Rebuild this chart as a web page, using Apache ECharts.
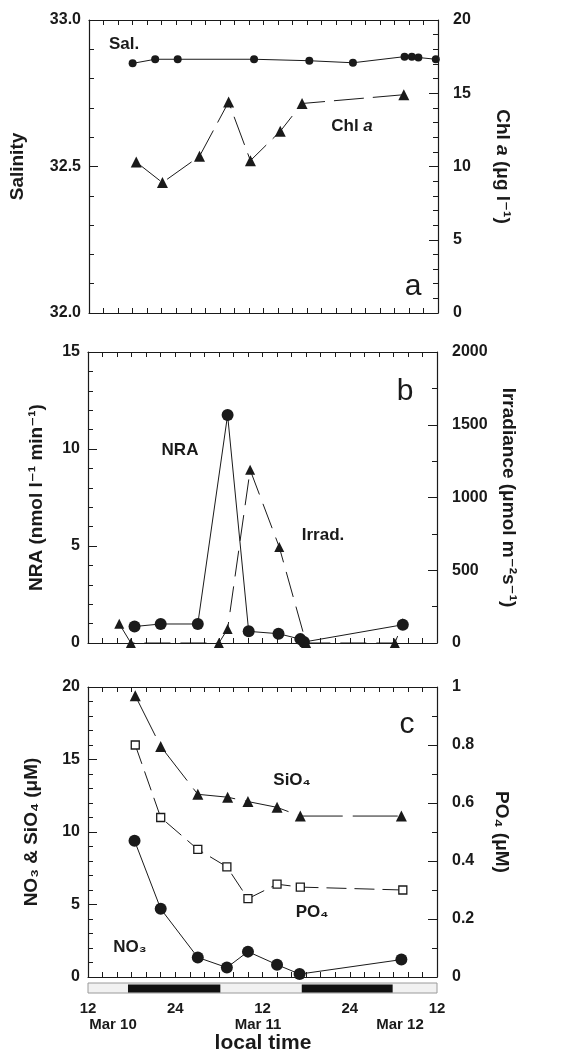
<!DOCTYPE html>
<html>
<head>
<meta charset="utf-8">
<script src="https://cdn.jsdelivr.net/npm/echarts@6/dist/echarts.min.js"></script>
<style>
  html, body { margin: 0; padding: 0; background: #fff; }
  #chart { width: 584px; height: 1054px; }
</style>
</head>
<body>
<div id="chart"></div>
<script>
// hours counted from Mar 10 00:00 local time
var salHours = [18.0, 21.1, 24.2, 34.7, 42.3, 48.3, 55.4, 56.4, 57.3, 59.7];
var salVals  = [32.852, 32.866, 32.866, 32.866, 32.861, 32.854, 32.875, 32.875, 32.872, 32.866];
var chlHours = [18.5, 22.1, 27.2, 31.2, 34.2, 38.3, 41.3, 55.3];
var chlVals  = [10.3, 8.9, 10.7, 14.4, 10.4, 12.4, 14.3, 14.9];

var nraHours = [18.4, 22.0, 27.1, 31.2, 34.1, 38.2, 41.2, 41.7, 55.3];
var nraVals  = [0.85, 0.98, 0.98, 11.75, 0.6, 0.48, 0.2, 0.05, 0.94];
var irrHours = [16.3, 17.9, 30.0, 31.2, 34.3, 38.3, 42.0, 54.2, 55.3];
var irrVals  = [132, 0, 0, 96, 1190, 660, 0, 0, 136];

var sioHours = [18.5, 22.0, 27.1, 31.2, 34.0, 38.0, 41.2, 55.1];
var sioVals  = [19.4, 15.9, 12.6, 12.4, 12.1, 11.7, 11.1, 11.1];
var po4Hours = [18.5, 22.0, 27.1, 31.1, 34.0, 38.0, 41.2, 55.3];
var po4Vals  = [0.80, 0.55, 0.44, 0.38, 0.27, 0.32, 0.31, 0.30];
var no3Hours = [18.4, 22.0, 27.1, 31.1, 34.0, 38.0, 41.1, 55.1];
var no3Vals  = [9.4, 4.7, 1.35, 0.65, 1.75, 0.85, 0.2, 1.2];

// dark periods
var nightStart = [17.5, 41.4];
var nightEnd   = [30.2, 53.9];

var timeLabels = {12: '12', 24: '24', 36: '12', 48: '24', 60: '12'};
var dateLabels = ['Mar 10', 'Mar 11', 'Mar 12'];

var FONT = '"Liberation Sans", "DejaVu Sans", Arial, sans-serif';
var INK = '#1a1a1a';

function zip(xs, ys) {
  return xs.map(function (x, i) { return [x, ys[i]]; });
}

var grids = [
  {left: 88, right: 146, top: 20, height: 293},
  {left: 88, right: 147, top: 352, height: 291},
  {left: 88, right: 147, top: 687, height: 290},
  {left: 88, right: 147, top: 983, height: 10, show: true, backgroundColor: '#f1f1f1', borderColor: '#9a9a9a', borderWidth: 1}
];

var xAxes = [];
[0, 1, 2].forEach(function (g) {
  ['bottom', 'top'].forEach(function (pos) {
    xAxes.push({
      type: 'value', gridIndex: g, position: pos, min: 12, max: 60, interval: 2,
      axisLine: {show: true, onZero: false, lineStyle: {color: INK, width: 1.2}},
      axisTick: {show: true, inside: true, length: 5, lineStyle: {color: INK}},
      axisLabel: {show: false},
      splitLine: {show: false}
    });
  });
});
xAxes.push({
  type: 'value', gridIndex: 3, position: 'bottom', min: 12, max: 60, interval: 12,
  axisLine: {show: false}, axisTick: {show: false}, splitLine: {show: false},
  axisLabel: {
    show: true, margin: 8, color: INK, fontFamily: FONT, fontWeight: 'bold', fontSize: 15,
    formatter: function (v) { return timeLabels[v] || ''; }
  }
});

function plain(v) { return String(v); }

function yAxis(g, pos, min, max, interval, minor, name, gap, fmt) {
  return {
    type: 'value', gridIndex: g, position: pos, min: min, max: max, interval: interval,
    name: name, nameLocation: 'middle', nameGap: gap, nameRotate: pos === 'left' ? 90 : -90,
    nameTextStyle: {
      color: INK, fontFamily: FONT, fontWeight: 'bold', fontSize: 19,
      rich: {i: {fontStyle: 'italic', fontWeight: 'bold', fontSize: 19, fontFamily: FONT, color: INK}}
    },
    axisLine: {show: true, onZero: false, lineStyle: {color: INK, width: 1.2}},
    axisTick: {show: true, inside: true, length: 9, lineStyle: {color: INK}},
    minorTick: {show: true, splitNumber: minor, length: 5, lineStyle: {color: INK}},
    axisLabel: {
      show: true, margin: pos === 'left' ? 8 : 15, color: INK,
      fontFamily: FONT, fontWeight: 'bold', fontSize: 16, formatter: fmt || plain
    },
    splitLine: {show: false}, minorSplitLine: {show: false}
  };
}

var yAxes = [
  yAxis(0, 'left', 32, 33, 0.5, 5, 'Salinity', 62, function (v) { return v.toFixed(1); }),
  yAxis(0, 'right', 0, 20, 5, 5, 'Chl {i|a} (μg l⁻¹)', 55),
  yAxis(1, 'left', 0, 15, 5, 5, 'NRA (nmol l⁻¹ min⁻¹)', 42),
  yAxis(1, 'right', 0, 2000, 500, 2, 'Irradiance (μmol m⁻²s⁻¹)', 62),
  yAxis(2, 'left', 0, 20, 5, 5, 'NO₃ & SiO₄ (μM)', 47),
  yAxis(2, 'right', 0, 1, 0.2, 2, 'PO₄ (μM)', 55),
  {type: 'value', gridIndex: 3, min: 0, max: 1, show: false}
];

function line(name, data, xi, yi, symbol, size, dash, fill) {
  return {
    name: name, type: 'line', data: data, xAxisIndex: xi, yAxisIndex: yi,
    symbol: symbol, symbolSize: size, showSymbol: true,
    lineStyle: {color: INK, width: 1, type: dash || 'solid'},
    itemStyle: {color: fill || INK, borderColor: INK, borderWidth: fill ? 1.3 : 0, opacity: 1},
    z: fill ? 3 : 4, animation: false
  };
}

var series = [
  line('Sal.', zip(salHours, salVals), 0, 0, 'circle', 8),
  line('Chl a', zip(chlHours, chlVals), 0, 1, 'triangle', 11, [30, 9]),
  line('NRA', zip(nraHours, nraVals), 2, 2, 'circle', 12),
  line('Irrad.', zip(irrHours, irrVals), 2, 3, 'triangle', 10, [26, 10]),
  line('SiO4', zip(sioHours, sioVals), 4, 4, 'triangle', 11, [45, 10]),
  line('PO4', zip(po4Hours, po4Vals), 4, 5, 'rect', 8, [20, 8], '#fff'),
  line('NO3', zip(no3Hours, no3Vals), 4, 4, 'circle', 12),
  {
    type: 'custom', xAxisIndex: 6, yAxisIndex: 6, animation: false,
    data: nightStart.map(function (s, i) { return [s, nightEnd[i]]; }),
    encode: {x: [0, 1]},
    renderItem: function (params, api) {
      var a = api.coord([api.value(0), 0.85]);
      var b = api.coord([api.value(1), 0.05]);
      return {type: 'rect', shape: {x: a[0], y: a[1], width: b[0] - a[0], height: b[1] - a[1]}, style: {fill: '#111'}};
    }
  }
];

function txt(x, y, text, size, weight, rich) {
  return {
    type: 'text', x: x, y: y,
    style: {
      text: text, fill: INK, font: (weight || 'bold') + ' ' + size + 'px ' + FONT,
      align: 'center', verticalAlign: 'middle', rich: rich
    }
  };
}

var richChl = {
  n: {fontFamily: FONT, fontWeight: 'bold', fontSize: 17, color: INK},
  i: {fontFamily: FONT, fontWeight: 'bold', fontStyle: 'italic', fontSize: 17, color: INK}
};

var graphics = [
  txt(124, 44, 'Sal.', 17),
  txt(352, 126, '{n|Chl }{i|a}', 17, 'bold', richChl),
  txt(413, 287, 'a', 30, 'normal'),
  txt(180, 450, 'NRA', 17),
  txt(323, 535, 'Irrad.', 17),
  txt(405, 392, 'b', 30, 'normal'),
  txt(292, 780, 'SiO₄', 17),
  txt(312, 912, 'PO₄', 17),
  txt(130, 947, 'NO₃', 17),
  txt(407, 725, 'c', 30, 'normal'),
  txt(113, 1025, dateLabels[0], 15),
  txt(258, 1025, dateLabels[1], 15),
  txt(400, 1025, dateLabels[2], 15),
  txt(263, 1043, 'local time', 21)
];

var myChart = echarts.init(document.getElementById('chart'), null, {renderer: 'canvas'});
myChart.setOption({
  backgroundColor: '#fff',
  animation: false,
  grid: grids,
  xAxis: xAxes,
  yAxis: yAxes,
  series: series,
  graphic: graphics
});
</script>
</body>
</html>
